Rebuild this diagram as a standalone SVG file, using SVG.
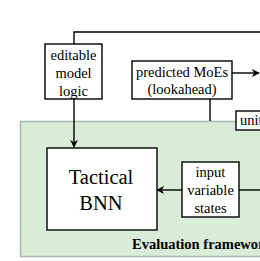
<svg xmlns="http://www.w3.org/2000/svg" width="260" height="261" viewBox="0 0 260 261">
<defs>
<style>
.box{fill:#fff;stroke:#000;stroke-width:1.4}
text{font-family:'Liberation Serif','Times New Roman',Times,'DejaVu Serif',serif;font-size:14.5px;fill:#000;text-anchor:middle}
.big{font-size:20.5px}
.b{font-weight:bold;text-anchor:start}
.ln{fill:none;stroke:#000;stroke-width:1.4}
</style>
<marker id="ah" viewBox="0 0 10 10" refX="9" refY="5" markerWidth="8" markerHeight="8" markerUnits="userSpaceOnUse" orient="auto">
<path d="M0,0 L10,5 L0,10 L3,5 Z" fill="#000"/>
</marker>
</defs>
<rect width="260" height="261" fill="#fff"/>
<g id="frame">
<rect x="20.5" y="121.5" width="250" height="135" fill="#d8ecd8" stroke="#a9b9a9" stroke-width="1.5"/>
<text class="b" x="132" y="249" font-family="Liberation Serif, serif">Evaluation framework</text>
</g>
<g id="connectors">
<polyline class="ln" points="74,44 74,32 262,32"/>
<line class="ln" x1="74" y1="99" x2="74" y2="147" marker-end="url(#ah)"/>
<line class="ln" x1="232" y1="73" x2="259" y2="73" marker-end="url(#ah)"/>
<line class="ln" x1="210" y1="99" x2="210" y2="121"/>
<line class="ln" x1="182" y1="190" x2="157" y2="190" marker-end="url(#ah)"/>
<line class="ln" x1="239" y1="190" x2="262" y2="190"/>
</g>
<g id="editable">
<rect class="box" x="45" y="44" width="57" height="55"/>
<text x="73.5" y="60" font-family="Liberation Serif, serif">editable</text>
<text x="73.5" y="78" font-family="Liberation Serif, serif">model</text>
<text x="73.5" y="96" font-family="Liberation Serif, serif">logic</text>
</g>
<g id="predicted">
<rect class="box" x="132" y="61" width="100" height="38"/>
<text x="182" y="77" font-family="Liberation Serif, serif">predicted MoEs</text>
<text x="182" y="94" font-family="Liberation Serif, serif">(lookahead)</text>
</g>
<g id="unit">
<rect class="box" x="236" y="111" width="40" height="19"/>
<text x="240" y="125" style="text-anchor:start" font-family="Liberation Serif, serif">unit</text>
</g>
<g id="bnn">
<rect class="box" x="47" y="148" width="110" height="82"/>
<text class="big" x="101" y="184" font-family="Liberation Serif, serif">Tactical</text>
<text class="big" x="101" y="210" font-family="Liberation Serif, serif">BNN</text>
</g>
<g id="input">
<rect class="box" x="182" y="162" width="57" height="55"/>
<text x="210.5" y="177" font-family="Liberation Serif, serif">input</text>
<text x="210.5" y="195" font-family="Liberation Serif, serif">variable</text>
<text x="210.5" y="213" font-family="Liberation Serif, serif">states</text>
</g>
</svg>
